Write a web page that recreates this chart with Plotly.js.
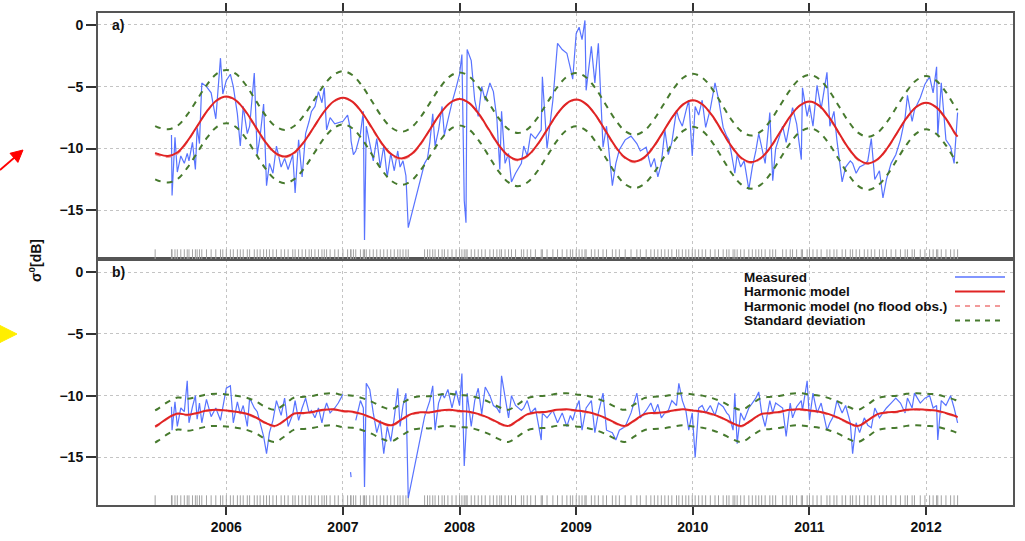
<!DOCTYPE html>
<html>
<head>
<meta charset="utf-8">
<script src="https://cdn.plot.ly/plotly-3.0.1.min.js"></script>
<style>html,body{margin:0;padding:0;background:#fff;}#chart{width:1025px;height:541px;}</style>
</head>
<body>
<div id="chart"></div>
<script>
// ---------- DATA ----------
const yearTicks = [2006, 2007, 2008, 2009, 2010, 2011, 2012];
const yearLabels = ["2006", "2007", "2008", "2009", "2010", "2011", "2012"];
const dbTicks = [0, -5, -10, -15];
const dbLabels = ["0", "\u22125", "\u221210", "\u221215"];

// observation dates (decimal years) – also shown as the rug at the bottom of each panel
const obsDates = [
  2005.39, 2005.53, 2005.535, 2005.56, 2005.58, 2005.61, 2005.64, 2005.665, 2005.68, 2005.71,
  2005.735, 2005.75, 2005.77, 2005.79, 2005.83, 2005.87, 2005.91, 2005.95, 2005.97, 2006.0,
  2006.035, 2006.06, 2006.095, 2006.12, 2006.145, 2006.18, 2006.2, 2006.24, 2006.265, 2006.29,
  2006.32, 2006.345, 2006.37, 2006.4, 2006.43, 2006.47, 2006.5,
  2006.53, 2006.57, 2006.59, 2006.62, 2006.65, 2006.68, 2006.71, 2006.73, 2006.76, 2006.79,
  2006.82, 2006.84, 2006.86, 2006.89, 2006.93, 2006.96, 2007.0,
  2007.04, 2007.065, 2007.07, 2007.09, 2007.11, 2007.15, 2007.175, 2007.185, 2007.2, 2007.23,
  2007.26, 2007.29, 2007.32, 2007.35, 2007.38, 2007.41, 2007.44, 2007.47, 2007.49,
  2007.515, 2007.54, 2007.56, 2007.70, 2007.725, 2007.745, 2007.77, 2007.79, 2007.82, 2007.85,
  2007.87, 2007.9, 2007.935, 2007.97, 2008.0,
  2008.02, 2008.04, 2008.055, 2008.065, 2008.1, 2008.13, 2008.16, 2008.19, 2008.22, 2008.26,
  2008.29, 2008.32, 2008.345, 2008.36, 2008.39, 2008.42, 2008.445, 2008.48,
  2008.53, 2008.55, 2008.58, 2008.61, 2008.65, 2008.7, 2008.71, 2008.75, 2008.8, 2008.84,
  2008.88, 2008.92, 2008.95, 2008.97, 2009.0,
  2009.025, 2009.05, 2009.075, 2009.085, 2009.13, 2009.16, 2009.19, 2009.23, 2009.26, 2009.31,
  2009.34, 2009.37, 2009.42, 2009.47,
  2009.52, 2009.55, 2009.6, 2009.64, 2009.67, 2009.7, 2009.73, 2009.76, 2009.79, 2009.82,
  2009.86, 2009.88, 2009.91, 2009.94, 2009.965, 2009.995,
  2010.02, 2010.05, 2010.08, 2010.11, 2010.15, 2010.19, 2010.22, 2010.26, 2010.29, 2010.31,
  2010.345, 2010.36, 2010.38, 2010.41, 2010.44, 2010.48,
  2010.51, 2010.54, 2010.565, 2010.59, 2010.62, 2010.66, 2010.685, 2010.71, 2010.77, 2010.8,
  2010.835, 2010.855, 2010.89, 2010.93, 2010.94, 2010.98,
  2011.0, 2011.03, 2011.065, 2011.1, 2011.15, 2011.175, 2011.21, 2011.235, 2011.28, 2011.31,
  2011.35, 2011.37, 2011.4, 2011.43, 2011.47,
  2011.5, 2011.53, 2011.56, 2011.6, 2011.63, 2011.66, 2011.7, 2011.74, 2011.78, 2011.82,
  2011.84, 2011.88, 2011.9, 2011.95, 2011.99,
  2012.03, 2012.06, 2012.09, 2012.1, 2012.13, 2012.17, 2012.21, 2012.24, 2012.27
];

// panel a) measured sigma0 [dB]
const measuredA = [
  null, -8.9, -13.8, -9.1, -11.9, -10.6, -11.2, -10.4, -11.0, -9.5,
  -11.7, -8.3, -9.6, -4.7, -5.0, -5.5, -7.6, -2.7, -5.6, -4.5,
  -4.0, -5.0, -7.2, -9.8, -6.6, -8.8, -8.2, -3.9, -10.5, -9.0,
  -6.4, -13.0, -11.2, -12.0, -9.8, -11.5, -10.8,
  -11.7, -10.5, -13.6, -9.3, -12.3, -8.8, -7.8, -7.0, -6.6, -5.4,
  -6.3, -5.1, -8.5, -7.5, -8.0, -7.9, -7.8,
  -7.3, -8.5, -9.4, -10.5, -10.2, -8.8, -7.0, -17.4, -8.2, -9.5,
  -11.0, -9.2, -11.5, -9.8, -12.3, -10.4, -11.8, -10.2, -11.5,
  -11.0, -12.2, -16.4, -11.2, -10.8, -9.5, -7.2, -9.8, -8.5, -6.6,
  -8.9, -7.6, -6.3, -5.1, -4.0,
  -2.4, -14.2, -16.0, -2.0, -2.9, -6.1, -7.4, -5.0, -6.1, -4.7,
  -5.4, -7.6, -11.7, -7.0, -11.2, -10.4, -12.7, -12.0,
  -11.2, -9.8, -10.6, -8.8, -9.2, -8.5, -4.2, -10.0, -6.1, -1.5,
  -2.0, -2.3, -3.5, -4.4, -0.7,
  -0.2, -1.2, 0.35, -5.3, -1.75, -4.7, -1.5, -9.9, -8.2, -13.0,
  -11.2, -10.1, -9.3, -9.0,
  -9.6, -10.2, -9.9, -11.5, -10.8, -12.3, -11.2, -8.5, -10.5, -9.5,
  -6.9, -7.6, -8.2, -7.0, -6.1, -10.6,
  -6.6, -7.3, -6.1, -8.3, -6.8, -4.7, -6.0, -8.3, -9.0, -9.3,
  -11.0, -12.0, -10.5, -11.5, -11.0, -13.3,
  -11.5, -10.2, -8.8, -9.85, -11.2, -7.1, -12.6, -10.0, -8.2, -9.5,
  -7.5, -6.7, -8.0, -10.9, -5.1, -7.4,
  -6.5, -8.2, -4.9, -6.8, -3.85, -8.2, -7.0, -9.3, -12.7, -11.5,
  -11.0, -11.2, -12.0, -11.5, -11.3,
  -11.0, -9.2, -12.5, -11.8, -14.0, -12.5, -11.2, -10.5, -9.3, -7.5,
  -5.7, -7.8, -6.9, -5.9, -4.8,
  -4.2, -5.5, -3.4, -9.0, -4.7, -9.3, -9.85, -11.2, -7.1
];

// panel b) measured sigma0 [dB]
const measuredB = [
  null, -10.9, -12.8, -10.5, -12.5, -11.0, -11.3, -8.8, -12.2, -10.9,
  -10.0, -11.9, -10.6, -12.2, -10.3, -11.7, -11.0, -12.0, -11.0, -9.4,
  -9.2, -12.2, -10.5, -11.5, -10.8, -12.5, -10.2, -11.0, -11.3, -12.2,
  -13.3, -14.7, -13.0, -12.0, -10.4, -11.6, -10.2,
  -12.5, -11.5, -10.4, -12.0, -11.0, -10.2, -11.4, -11.2, -11.8, -11.0,
  -12.2, -11.2, -10.6, -11.4, -11.0, -10.6, -9.9,
  null, -16.2, -16.6, null, -12.0, -10.4, -11.0, -17.4, -9.0, -9.5,
  -11.4, -13.0, -12.0, -14.7, -12.5, -13.7, -11.8, -9.4, -12.5,
  -10.8, -9.8, -18.3, -11.7, -11.0, -10.4, -9.2, -12.8, -10.6, -9.8,
  -10.2, -9.5, -11.0, -9.6, -10.8,
  -8.2, -15.7, -13.0, -9.8, -12.5, -10.4, -9.4, -11.5, -9.3, -10.0,
  -10.8, -11.0, -11.4, -8.4, -10.2, -11.8, -10.0, -10.8,
  -11.2, -11.0, -10.4, -11.4, -11.0, -13.6, -11.4, -11.8, -11.2, -12.2,
  -11.4, -12.5, -11.6, -12.0, -11.0,
  -10.4, -12.8, -11.7, -11.0, -10.4, -13.0, -11.4, -9.8, -12.8, -13.0,
  -13.6, -12.8, -12.5, -11.4,
  -9.8, -11.8, -11.2, -10.6, -11.4, -10.7, -11.8, -11.4, -11.2, -10.4,
  -10.8, -9.0, -10.4, -11.2, -12.8, -11.4,
  -15.0, -11.0, -10.8, -11.4, -10.8, -11.6, -10.6, -10.9, -11.4, -11.6,
  -12.8, -9.8, -13.9, -11.4, -12.0, -11.0,
  -10.6, -10.2, -9.7, -11.4, -12.5, -10.4, -11.4, -10.6, -11.0, -13.3,
  -10.6, -11.8, -10.9, -10.4, -11.2, -8.8,
  -12.0, -9.8, -11.4, -10.6, -12.8, -12.2, -11.6, -10.4, -11.4, -10.8,
  -12.2, -14.7, -12.2, -13.0, -11.8,
  -12.4, -12.6, -11.0, -11.8, -11.4, -11.0, -10.6, -10.2, -10.6, -11.4,
  -10.2, -11.0, -9.8, -10.6, -10.2,
  -10.0, -11.0, -10.8, -13.6, -10.4, -10.8, -10.0, -11.0, -12.2
];

// harmonic model sampling dates (decimal years, monthly)
const modelDates = [
  2005.39, 2005.4167, 2005.5, 2005.5833, 2005.6667, 2005.75, 2005.8333, 2005.9167,
  2006.0, 2006.0833, 2006.1667, 2006.25, 2006.3333, 2006.4167, 2006.5, 2006.5833, 2006.6667, 2006.75, 2006.8333, 2006.9167,
  2007.0, 2007.0833, 2007.1667, 2007.25, 2007.3333, 2007.4167, 2007.5, 2007.5833, 2007.6667, 2007.75, 2007.8333, 2007.9167,
  2008.0, 2008.0833, 2008.1667, 2008.25, 2008.3333, 2008.4167, 2008.5, 2008.5833, 2008.6667, 2008.75, 2008.8333, 2008.9167,
  2009.0, 2009.0833, 2009.1667, 2009.25, 2009.3333, 2009.4167, 2009.5, 2009.5833, 2009.6667, 2009.75, 2009.8333, 2009.9167,
  2010.0, 2010.0833, 2010.1667, 2010.25, 2010.3333, 2010.4167, 2010.5, 2010.5833, 2010.6667, 2010.75, 2010.8333, 2010.9167,
  2011.0, 2011.0833, 2011.1667, 2011.25, 2011.3333, 2011.4167, 2011.5, 2011.5833, 2011.6667, 2011.75, 2011.8333, 2011.9167,
  2012.0, 2012.0833, 2012.1667, 2012.25, 2012.27
];

// panel a) harmonic model
const modelA = [
  -10.35, -10.45, -10.6, -10.3, -9.4, -8.2, -7.0, -6.12,
  -5.8, -6.12, -7.01, -8.23, -9.44, -10.33, -10.65, -10.33, -9.46, -8.28, -7.09, -6.22,
  -5.9, -6.23, -7.13, -8.35, -9.58, -10.47, -10.8, -10.48, -9.6, -8.4, -7.2, -6.32,
  -6.0, -6.33, -7.23, -8.45, -9.68, -10.57, -10.9, -10.58, -9.69, -8.48, -7.26, -6.37,
  -6.05, -6.39, -7.3, -8.55, -9.8, -10.72, -11.05, -10.72, -9.81, -8.58, -7.34, -6.43,
  -6.1, -6.44, -7.35, -8.6, -9.85, -10.77, -11.1, -10.77, -9.88, -8.65, -7.43, -6.53,
  -6.2, -6.54, -7.45, -8.7, -9.95, -10.87, -11.2, -10.87, -9.98, -8.75, -7.53, -6.63,
  -6.3, -6.64, -7.55, -8.8, -9.05
];
// panel a) harmonic model fitted without flood observations
const modelNoFloodA = [
  -10.45, -10.55, -10.7, -10.4, -9.45, -8.22, -7.02, -6.15,
  -5.85, -6.15, -7.05, -8.3, -9.5, -10.4, -10.72, -10.4, -9.5, -8.3, -7.1, -6.25,
  -5.92, -6.25, -7.17, -8.4, -9.63, -10.53, -10.88, -10.55, -9.65, -8.42, -7.22, -6.34,
  -6.02, -6.36, -7.27, -8.5, -9.73, -10.63, -10.97, -10.63, -9.72, -8.5, -7.28, -6.39,
  -6.07, -6.42, -7.33, -8.6, -9.85, -10.78, -11.12, -10.78, -9.85, -8.6, -7.36, -6.45,
  -6.12, -6.47, -7.39, -8.65, -9.9, -10.83, -11.17, -10.82, -9.92, -8.68, -7.45, -6.55,
  -6.22, -6.57, -7.5, -8.75, -10.0, -10.93, -11.27, -10.92, -10.02, -8.78, -7.55, -6.65,
  -6.32, -6.67, -7.6, -8.85, -9.1
];

// panel b) harmonic model
const modelB = [
  -12.5, -12.35, -11.8, -11.45, -11.55, -11.4, -11.2, -11.15,
  -11.2, -11.3, -11.45, -11.75, -12.2, -12.45, -12.0, -11.45, -11.4, -11.3, -11.15, -11.1,
  -11.25, -11.3, -11.5, -11.8, -12.2, -12.4, -11.95, -11.5, -11.35, -11.35, -11.2, -11.15,
  -11.25, -11.3, -11.5, -11.8, -12.2, -12.45, -12.0, -11.5, -11.35, -11.3, -11.15, -11.1,
  -11.2, -11.3, -11.5, -11.8, -12.2, -12.45, -12.0, -11.5, -11.4, -11.35, -11.2, -11.1,
  -11.2, -11.3, -11.5, -11.8, -12.2, -12.45, -12.0, -11.5, -11.4, -11.3, -11.15, -11.1,
  -11.2, -11.3, -11.5, -11.8, -12.2, -12.45, -12.0, -11.5, -11.35, -11.3, -11.15, -11.1,
  -11.15, -11.2, -11.4, -11.65, -11.75
];
// panel b) harmonic model fitted without flood observations
const modelNoFloodB = [
  -12.55, -12.4, -11.85, -11.5, -11.6, -11.45, -11.25, -11.2,
  -11.25, -11.35, -11.5, -11.8, -12.25, -12.5, -12.05, -11.5, -11.45, -11.35, -11.2, -11.15,
  -11.3, -11.35, -11.55, -11.85, -12.25, -12.45, -12.0, -11.55, -11.4, -11.4, -11.25, -11.2,
  -11.3, -11.35, -11.55, -11.85, -12.25, -12.5, -12.05, -11.55, -11.4, -11.35, -11.2, -11.15,
  -11.25, -11.35, -11.55, -11.85, -12.25, -12.5, -12.05, -11.55, -11.45, -11.4, -11.25, -11.15,
  -11.25, -11.35, -11.55, -11.85, -12.25, -12.5, -12.05, -11.55, -11.45, -11.35, -11.2, -11.15,
  -11.25, -11.35, -11.55, -11.85, -12.25, -12.5, -12.05, -11.55, -11.4, -11.35, -11.2, -11.15,
  -11.2, -11.25, -11.45, -11.7, -11.8
];

// standard deviation of the residuals [dB]
const sdA = 2.15;
const sdB = 1.3;

// legend entries
const legendLabels = ["Measured", "Harmonic model", "Harmonic model (no flood obs.)", "Standard deviation"];

// ---------- STYLE ----------
const FONT = "Liberation Sans, Arial, Helvetica, sans-serif";
const C_MEAS = "rgba(70,100,255,0.9)";
const C_MODEL = "#e02424";
const C_NOFLOOD = "#f29a9a";
const C_SD = "#477a2e";
const C_RUG = "#a3a3a3";
const rangeA = [-18.93, 0.95];
const rangeB = [-18.86, 1.07];
const xRange = [2004.9, 2012.745];

function plus(arr, s) { return arr.map(v => v + s); }
function rugY(range, n) { const y = range[0] + 0.33; return new Array(n).fill(y); }

function panelTraces(xa, ya, meas, model, noflood, sd, range) {
  return [
    { x: obsDates, y: rugY(range, obsDates.length), xaxis: xa, yaxis: ya, mode: "markers", type: "scatter",
      marker: { symbol: "line-ns-open", size: 8, color: C_RUG, line: { color: C_RUG, width: 1 } }, hoverinfo: "skip" },
    { x: obsDates, y: meas, xaxis: xa, yaxis: ya, mode: "lines", type: "scatter",
      line: { color: C_MEAS, width: 1.2 }, connectgaps: false },
    { x: modelDates, y: plus(model, sd), xaxis: xa, yaxis: ya, mode: "lines", type: "scatter",
      line: { color: C_SD, width: 2, dash: "6px,6px", shape: "spline", smoothing: 1 } },
    { x: modelDates, y: plus(model, -sd), xaxis: xa, yaxis: ya, mode: "lines", type: "scatter",
      line: { color: C_SD, width: 2, dash: "6px,6px", shape: "spline", smoothing: 1 } },
    { x: modelDates, y: noflood, xaxis: xa, yaxis: ya, mode: "lines", type: "scatter",
      line: { color: C_NOFLOOD, width: 1.8, dash: "6px,5px", shape: "spline", smoothing: 1 } },
    { x: modelDates, y: model, xaxis: xa, yaxis: ya, mode: "lines", type: "scatter",
      line: { color: C_MODEL, width: 2, shape: "spline", smoothing: 1 } }
  ];
}

const data = [].concat(
  panelTraces("x2", "y2", measuredA, modelA, modelNoFloodA, sdA, rangeA),
  panelTraces("x", "y", measuredB, modelB, modelNoFloodB, sdB, rangeB)
);

const axisCommon = {
  showline: true, linecolor: "#555", linewidth: 2, mirror: true,
  showgrid: true, gridcolor: "#c4c4c4", gridwidth: 1, griddash: "dot",
  zeroline: false, ticks: "outside", tickcolor: "#333", tickwidth: 2,
  tickfont: { family: FONT, size: 14, color: "#111", weight: "bold" }
};

// pixel -> paper helpers for decorations (legend, side markers)
const W = 915, H = 492, L = 98, T = 13;
const px = x => (x - L) / W;
const py = y => 1 - (y - T) / H;
const legendRows = [277, 291.5, 306, 320.5];
const legendColors = [C_MEAS, C_MODEL, C_NOFLOOD, C_SD];
const legendDash = ["solid", "solid", "5px,5px", "5px,5px"];

const annotations = [
  { xref: "paper", yref: "paper", x: px(110), y: py(25), xanchor: "left", yanchor: "middle", showarrow: false,
    text: "a)", font: { family: FONT, size: 14, color: "#111", weight: "bold" } },
  { xref: "paper", yref: "paper", x: px(110), y: py(272), xanchor: "left", yanchor: "middle", showarrow: false,
    text: "b)", font: { family: FONT, size: 14, color: "#111", weight: "bold" } },
  { xref: "paper", yref: "paper", x: px(35), y: py(260), xanchor: "center", yanchor: "middle", showarrow: false,
    textangle: -90, text: "\u03c3<sup>0</sup>[dB]", font: { family: FONT, size: 14, color: "#111", weight: "bold" } }
];
legendLabels.forEach((t, i) => annotations.push({
  xref: "paper", yref: "paper", x: px(742), y: py(legendRows[i]), xanchor: "left", yanchor: "middle",
  showarrow: false, text: t, font: { family: FONT, size: 13.5, color: "#111", weight: "bold" }
}));

const shapes = legendLabels.map((t, i) => ({
  type: "line", xref: "paper", yref: "paper", x0: px(955), x1: px(1005), y0: py(legendRows[i]), y1: py(legendRows[i]),
  line: { color: legendColors[i], width: legendColors[i] === C_MEAS ? 1.4 : 2, dash: legendDash[i] }
}));
function pathOf(pts) { return "M" + pts.map(p => px(p[0]).toFixed(5) + "," + py(p[1]).toFixed(5)).join("L") + "Z"; }
// red arrow in the left margin
shapes.push({ type: "line", xref: "paper", yref: "paper", x0: px(0), y0: py(170), x1: px(14.5), y1: py(157.5),
  line: { color: "#ff0000", width: 1.8 } });
shapes.push({ type: "path", xref: "paper", yref: "paper", path: pathOf([[23, 150], [17.9, 162.4], [10.0, 153.3]]),
  fillcolor: "#ff0000", line: { color: "#ff0000", width: 1 } });
// yellow marker in the left margin
shapes.push({ type: "path", xref: "paper", yref: "paper", path: pathOf([[0, 325.5], [17, 334], [0, 342.5]]),
  fillcolor: "#ffee00", line: { color: "#ffee00", width: 1 } });

const layout = {
  width: 1025, height: 541,
  margin: { l: L, r: 12, t: T, b: 36, pad: 0 },
  paper_bgcolor: "#fff", plot_bgcolor: "#fff",
  showlegend: false,
  font: { family: FONT, color: "#111" },
  xaxis: Object.assign({}, axisCommon, { domain: [0, 1], anchor: "y", range: xRange, tickvals: yearTicks, ticktext: yearLabels, ticklen: 8 }),
  xaxis2: Object.assign({}, axisCommon, { domain: [0, 1], anchor: "y2", range: xRange, matches: "x", side: "top",
    tickvals: yearTicks, ticktext: yearLabels, ticklen: 8, showticklabels: false }),
  yaxis: Object.assign({}, axisCommon, { domain: [0, 0.5], anchor: "x", range: rangeB, tickvals: dbTicks, ticktext: dbLabels, ticklen: 10 }),
  yaxis2: Object.assign({}, axisCommon, { domain: [0.5, 1], anchor: "x2", range: rangeA, tickvals: dbTicks, ticktext: dbLabels, ticklen: 10 }),
  annotations: annotations,
  shapes: shapes
};

Plotly.newPlot("chart", data, layout, { displayModeBar: false, staticPlot: true });
</script>
</body>
</html>
